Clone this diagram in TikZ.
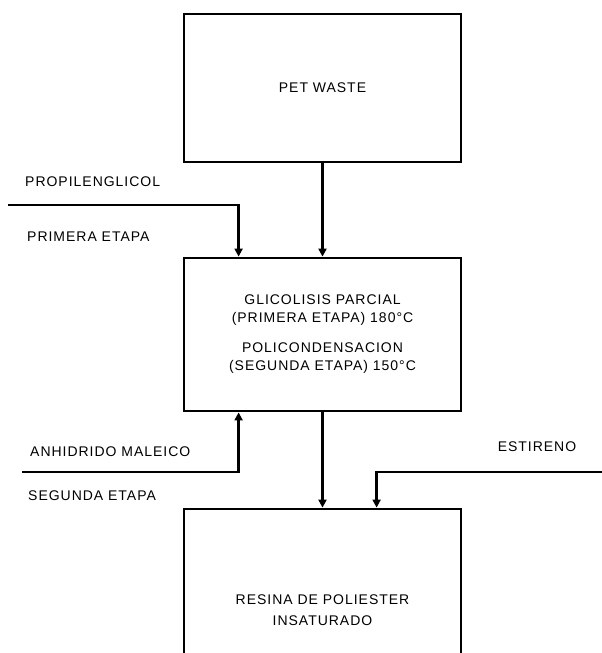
\documentclass[tikz,border=0pt]{standalone}
\usepackage{fontspec}
\setmainfont{Liberation Sans}[LetterSpace=7]
\usetikzlibrary{arrows.meta,calc}
\begin{document}
\begin{tikzpicture}[x=1pt,y=-1pt,
  box/.style={draw,line width=2.8pt,minimum width=277pt,inner sep=0pt,
    align=center,font=\fontsize{14}{18}\selectfont},
  lbl/.style={font=\fontsize{14}{17}\selectfont,inner sep=0pt},
  flow/.style={line width=2.6pt,-{Triangle[width=8pt,length=8pt]}},
  feed/.style={line width=2.6pt}]
  \useasboundingbox (0,0) rectangle (602,653);
  \clip (0,0) rectangle (602,653);

  % process boxes
  \node[box,minimum height=148pt] (waste) at (322.5,88) {PET WASTE};
  \node[box,minimum height=153pt] (reactor) at (322.5,334.5)
    {GLICOLISIS PARCIAL\\(PRIMERA ETAPA) 180°C\\[12pt]
     POLICONDENSACION\\(SEGUNDA ETAPA) 150°C};
  \node[box,minimum height=202pt,font=\fontsize{14}{21}\selectfont] (resin) at (322.5,610)
    {RESINA DE POLIESTER\\INSATURADO};

  % feed labels
  \node[lbl,anchor=west] (glycol) at (25,182) {PROPILENGLICOL};
  \node[lbl,anchor=west] (stage1) at (27,237) {PRIMERA ETAPA};
  \node[lbl,anchor=west] (anhyd) at (30,452) {ANHIDRIDO MALEICO};
  \node[lbl,anchor=west] (stage2) at (28,496) {SEGUNDA ETAPA};
  \node[lbl] (styrene) at (537,447) {ESTIRENO};

  % feed line start points
  \coordinate (glycolin) at (8,205);
  \coordinate (anhydin) at (22,472);
  \coordinate (styrenein) at (604,472);

  % connectors
  \draw[flow] (waste.south) -- (reactor.north);
  \draw[flow] (reactor.south) -- (resin.north);
  \draw[flow] (glycolin) -| ([xshift=56pt]reactor.north west);
  \draw[flow] (anhydin) -| ([xshift=56pt]reactor.south west);
  \draw[flow] (styrenein) -| ([xshift=194pt]resin.north west);
\end{tikzpicture}
\end{document}
